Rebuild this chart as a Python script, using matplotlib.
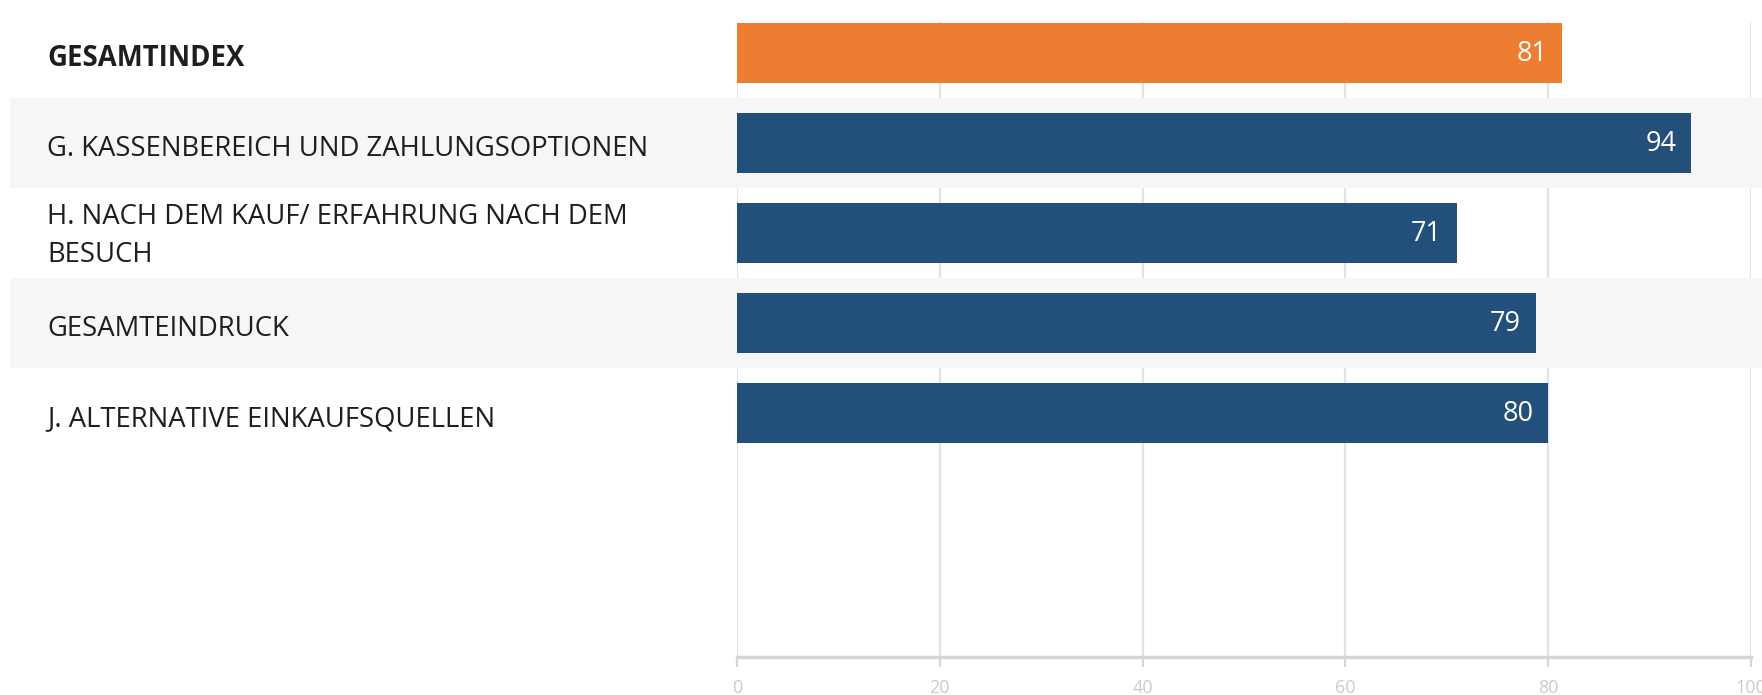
import matplotlib
matplotlib.use("Agg")
import matplotlib.pyplot as plt

categories = ["GESAMTINDEX",
              "G. KASSENBEREICH UND ZAHLUNGSOPTIONEN",
              "H. NACH DEM KAUF/ ERFAHRUNG NACH DEM\nBESUCH",
              "GESAMTEINDRUCK",
              "J. ALTERNATIVE EINKAUFSQUELLEN"]
values = [81.4, 94.1, 71.0, 78.8, 80.0]
value_labels = ["81", "94", "71", "79", "80"]
bar_colors = ["#ED7D31", "#22507A", "#22507A", "#22507A", "#22507A"]
ticks = [0, 20, 40, 60, 80, 100]

W, H = 1762, 695
fig = plt.figure(figsize=(W / 100, H / 100), dpi=100)
fig.patch.set_facecolor("white")

x0, x1 = 737, 1751
y_top, y_bot = 22, 657
ax = fig.add_axes([x0 / W, 1 - y_bot / H, (x1 - x0) / W, (y_bot - y_top) / H])
ax.set_facecolor("none")

pitch = 90.0
ax.set_xlim(0, 100)
ax.set_ylim(4 + (y_bot - 413) / pitch, -(53 - y_top) / pitch)

for t in ticks:
    ax.axvline(t, color="#e3e3e3", lw=1.6, zorder=0)

xmin_ax = (10 - x0) / (x1 - x0)
xmax_ax = (W - x0) / (x1 - x0)
for i in range(len(categories)):
    if i % 2 == 1:
        ax.axhspan(i - 0.5, i + 0.5, xmin=xmin_ax, xmax=xmax_ax,
                   color="#f6f6f6", zorder=1, clip_on=False, lw=0)

ypos = list(range(len(categories)))
ax.barh(ypos, values, height=0.67, color=bar_colors, zorder=2)

font = "Open Sans"
for i, (c, v, lab) in enumerate(zip(categories, values, value_labels)):
    ax.annotate(lab, xy=(v, i), xytext=(-15, -1), textcoords="offset pixels",
                ha="right", va="center", color="white", fontsize=19.5,
                family=font, zorder=3)
    dy = 0 if "\n" in c else 3
    fig.text(47 / W, 1 - (56 + dy + pitch * i) / H, c, ha="left", va="center",
             fontsize=19.8, family=font, color="#1e1e1e",
             fontweight="bold" if i == 0 else "normal", linespacing=1.5)

for s in ["top", "right", "left"]:
    ax.spines[s].set_visible(False)
ax.spines["bottom"].set_color("#d6d6d6")
ax.spines["bottom"].set_linewidth(2.5)
ax.spines["bottom"].set_zorder(4)
ax.set_yticks([])
ax.set_xticks(ticks)
ax.set_xticklabels([str(t) for t in ticks])
ax.tick_params(axis="x", length=7, width=1.5, color="#d6d6d6",
               labelcolor="#cbcbcb", labelsize=13, pad=9)
for lbl in ax.get_xticklabels():
    lbl.set_family(font)

fig.savefig("out.png", dpi=100, facecolor="white")
